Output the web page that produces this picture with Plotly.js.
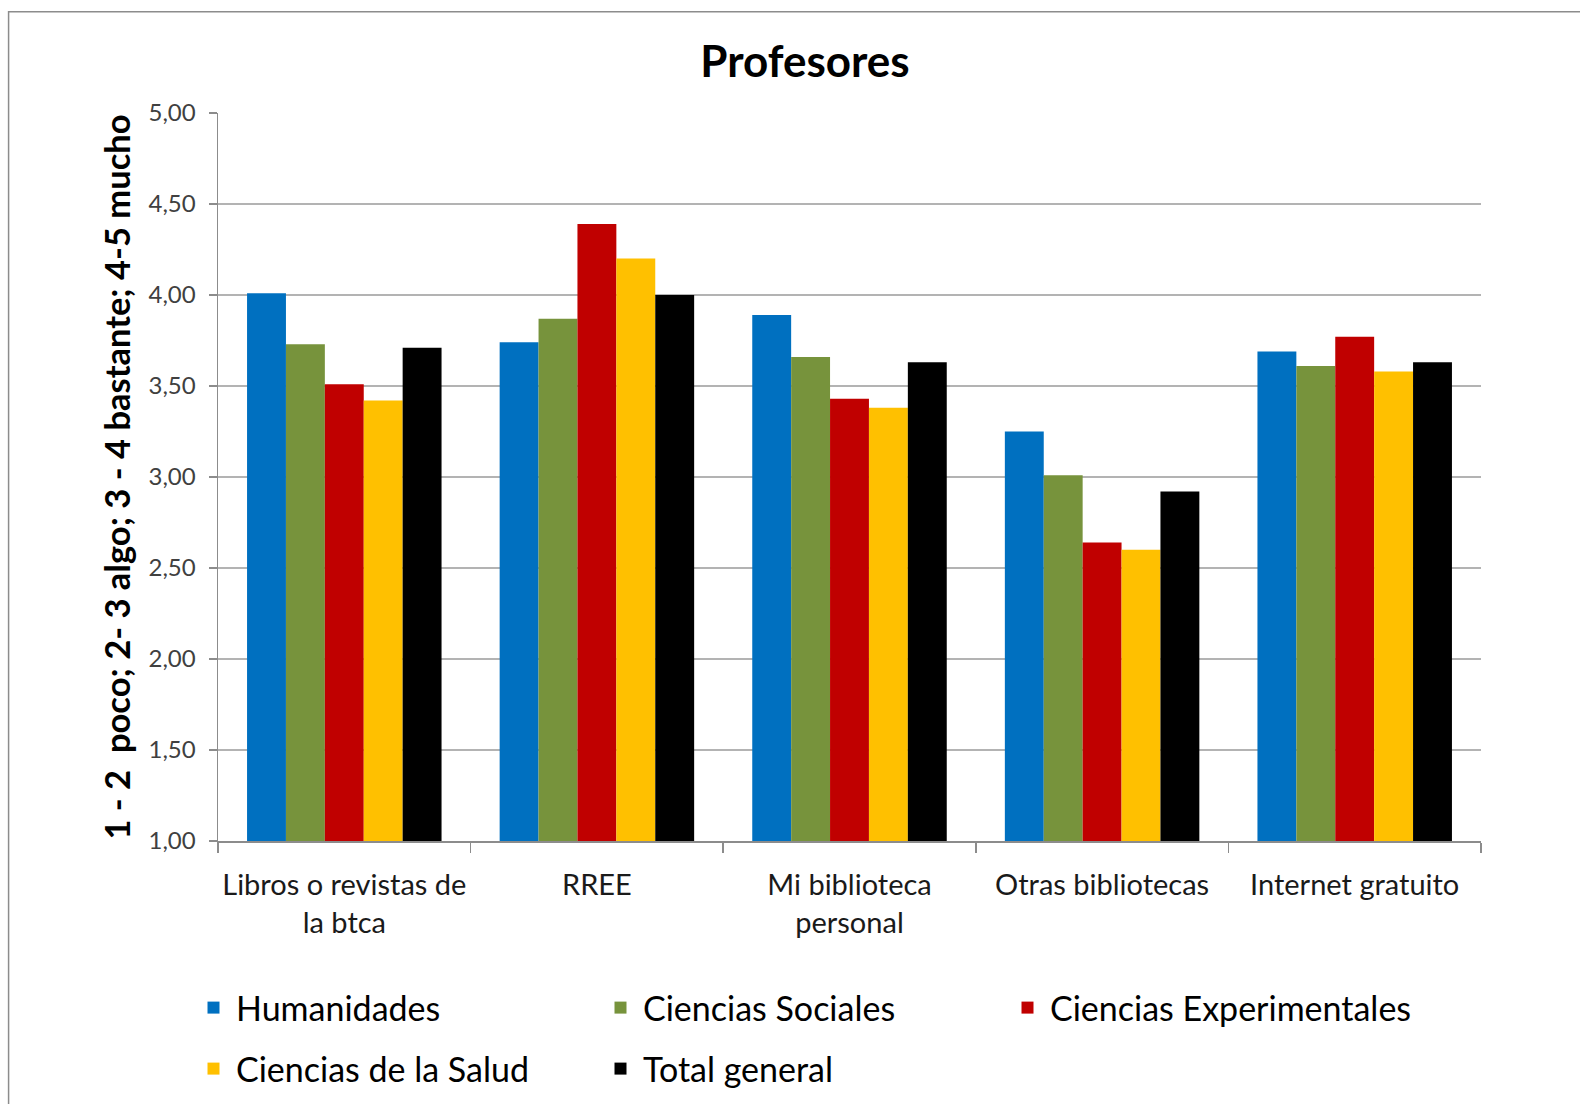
<!DOCTYPE html>
<html>
<head>
<meta charset="utf-8">
<script src="https://cdn.plot.ly/plotly-3.0.1.min.js"></script>
<style>
html,body{margin:0;padding:0;background:#fff;}
#chart{width:1580px;height:1104px;}
</style>
</head>
<body>
<div id="chart"></div>
<script>
const categories = ["Libros o revistas de<br>la btca", "RREE", "Mi biblioteca<br>personal", "Otras bibliotecas", "Internet gratuito"];
const seriesNames = ["Humanidades", "Ciencias Sociales", "Ciencias Experimentales", "Ciencias de la Salud", "Total general"];
const humanidades = [4.01, 3.74, 3.89, 3.25, 3.69];
const cienciasSociales = [3.73, 3.87, 3.66, 3.01, 3.61];
const cienciasExperimentales = [3.51, 4.39, 3.43, 2.64, 3.77];
const cienciasSalud = [3.42, 4.20, 3.38, 2.60, 3.58];
const totalGeneral = [3.71, 4.00, 3.63, 2.92, 3.63];
const colors = ["#0070C0", "#77933C", "#C00000", "#FFC000", "#000000"];
const yTickVals = [1, 1.5, 2, 2.5, 3, 3.5, 4, 4.5, 5];

const allSeries = [humanidades, cienciasSociales, cienciasExperimentales, cienciasSalud, totalGeneral];
const legendOf = ["legend", "legend", "legend", "legend2", "legend2"];
const font = "Lato, 'Open Sans', sans-serif";

const traces = allSeries.map((vals, i) => ({
  type: "bar",
  name: seriesNames[i],
  x: categories,
  y: vals,
  legend: legendOf[i],
  marker: {color: colors[i], line: {width: 0}},
  hoverinfo: "x+y+name"
}));

const L = 218, R = 1481.5, T = 112.5, B = 841.5;
const W = 1580, H = 1104;
const pw = R - L, ph = B - T;

const legendBase = {
  orientation: "h",
  xref: "container", yref: "container",
  x: 191 / W, xanchor: "left",
  yanchor: "middle",
  entrywidth: 357, entrywidthmode: "pixels",
  font: {family: font, size: 34, color: "#000000"},
  itemwidth: 35,
  tracegroupgap: 0,
  traceorder: "normal",
  bgcolor: "rgba(0,0,0,0)"
};

const layout = {
  width: W, height: H,
  margin: {l: L, r: W - R, t: T, b: H - B, pad: 0},
  paper_bgcolor: "#ffffff",
  plot_bgcolor: "#ffffff",
  separators: ", ",
  font: {family: font, color: "#000000"},
  barmode: "group",
  bargap: 0.23,
  bargroupgap: 0,
  title: {
    text: "<b>Profesores</b>",
    font: {family: font, size: 44, color: "#000000"},
    x: 805 / W, xref: "container", xanchor: "center",
    y: 1 - 62 / H, yref: "container", yanchor: "middle"
  },
  xaxis: {
    type: "category",
    showline: true, linecolor: "#8c8c8c", linewidth: 1.5,
    ticks: "outside", tickson: "boundaries", ticklen: 10, tickcolor: "#8c8c8c", tickwidth: 1.5,
    ticklabelstandoff: 18,
    tickangle: 0,
    tickfont: {family: font, size: 29, color: "#1a1a1a"},
    showgrid: false, zeroline: false,
    automargin: false,
    fixedrange: true
  },
  yaxis: {
    range: [1, 5],
    tickvals: yTickVals,
    tickformat: ".2f",
    showline: true, linecolor: "#8c8c8c", linewidth: 1.5,
    ticks: "outside", ticklen: 8, tickcolor: "#8c8c8c", tickwidth: 1.5,
    ticklabelstandoff: 8,
    tickfont: {family: font, size: 24, color: "#404040"},
    showgrid: true, gridcolor: "#b3b3b3", gridwidth: 1.5,
    zeroline: false,
    title: {
      text: "<b>1 - 2  poco; 2- 3 algo; 3 - 4 bastante; 4-5 mucho</b>",
      font: {family: font, size: 34.5, color: "#000000"},
      standoff: 7
    },
    automargin: false,
    fixedrange: true
  },
  legend: Object.assign({}, legendBase, {y: 1 - 1008 / H}),
  legend2: Object.assign({}, legendBase, {y: 1 - 1069 / H}),
  shapes: [{
    type: "rect", xref: "paper", yref: "paper",
    x0: (8.5 - L) / pw, x1: (1600 - L) / pw,
    y0: -(1130 - B) / ph, y1: 1 + (T - 11) / ph,
    line: {color: "#8c8c8c", width: 1.5}, fillcolor: "rgba(0,0,0,0)",
    layer: "below"
  }],
  showlegend: true
};

Plotly.newPlot("chart", traces, layout, {displayModeBar: false, staticPlot: true});
</script>
</body>
</html>
